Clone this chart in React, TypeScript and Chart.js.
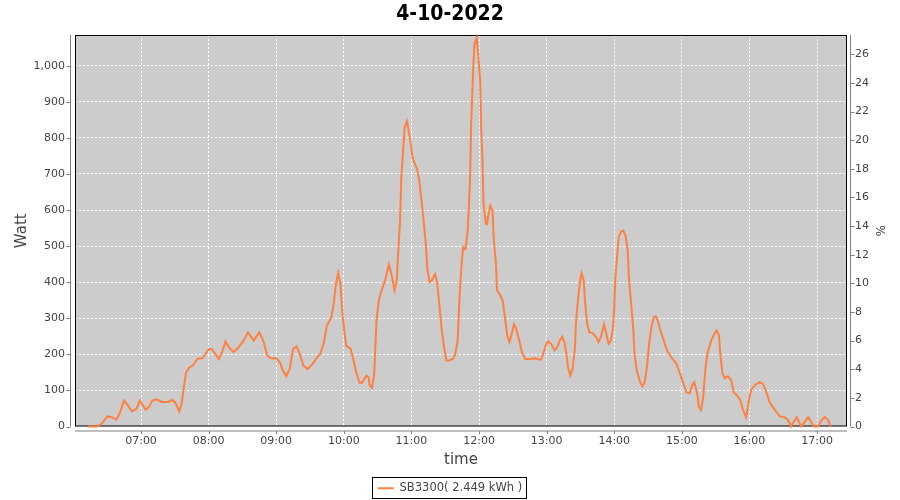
import React, { useEffect, useRef } from "react";
import { Chart, registerables } from "chart.js";

Chart.register(...registerables);

const chartTitle = "4-10-2022";
const seriesLabel = "SB3300( 2.449 kWh )";
const leftAxisTitle = "Watt";
const rightAxisTitle = "%";
const xAxisTitle = "time";

const times = [
  "06:13", "06:21", "06:25", "06:30", "06:34", "06:38", "06:41", "06:45", "06:48", "06:52",
  "06:56", "06:59", "07:04", "07:07", "07:10", "07:14", "07:18", "07:24", "07:28", "07:31",
  "07:34", "07:36", "07:38", "07:40", "07:43", "07:46", "07:50", "07:55", "08:00", "08:03",
  "08:09", "08:12", "08:15", "08:18", "08:22", "08:26", "08:31", "08:35", "08:40", "08:45",
  "08:49", "08:52", "08:55", "09:00", "09:03", "09:06", "09:09", "09:12", "09:15", "09:18",
  "09:21", "09:24", "09:28", "09:32", "09:36", "09:39", "09:42", "09:45", "09:49", "09:51",
  "09:53", "09:55", "09:57", "09:59", "10:02", "10:06", "10:08", "10:11", "10:14", "10:16",
  "10:20", "10:22", "10:23", "10:25", "10:27", "10:29", "10:31", "10:34", "10:37", "10:40",
  "10:42", "10:45", "10:47", "10:48", "10:50", "10:51", "10:53", "10:54", "10:56", "10:57",
  "10:59", "11:01", "11:03", "11:05", "11:07", "11:09", "11:11", "11:13", "11:14", "11:16",
  "11:18", "11:21", "11:23", "11:25", "11:27", "11:29", "11:31", "11:34", "11:37", "11:39",
  "11:41", "11:43", "11:45", "11:46", "11:48", "11:50", "11:52", "11:53", "11:55", "11:56",
  "11:58", "11:59", "12:01", "12:02", "12:03", "12:04", "12:06", "12:07", "12:09", "12:10",
  "12:12", "12:13", "12:15", "12:16", "12:19", "12:21", "12:23", "12:25", "12:27", "12:29",
  "12:31", "12:33", "12:36", "12:38", "12:41", "12:45", "12:50", "12:53", "12:55", "12:57",
  "12:59", "13:01", "13:04", "13:07", "13:09", "13:12", "13:14", "13:16", "13:18", "13:19",
  "13:21", "13:23", "13:25", "13:26", "13:28", "13:30", "13:31", "13:33", "13:34", "13:36",
  "13:38", "13:41", "13:44", "13:46", "13:48", "13:51", "13:53", "13:55", "13:57", "13:59",
  "14:00", "14:01", "14:03", "14:04", "14:06", "14:08", "14:10", "14:12", "14:13", "14:15",
  "14:17", "14:18", "14:20", "14:23", "14:25", "14:27", "14:29", "14:31", "14:33", "14:35",
  "14:37", "14:39", "14:41", "14:44", "14:47", "14:51", "14:55", "14:58", "15:01", "15:04",
  "15:07", "15:09", "15:11", "15:14", "15:15", "15:17", "15:19", "15:21", "15:23", "15:26",
  "15:29", "15:31", "15:33", "15:34", "15:36", "15:38", "15:41", "15:44", "15:46", "15:49",
  "15:52", "15:54", "15:57", "15:58", "16:00", "16:02", "16:05", "16:09", "16:12", "16:15",
  "16:18", "16:21", "16:24", "16:27", "16:31", "16:34", "16:37", "16:39", "16:42", "16:44",
  "16:46", "16:49", "16:52", "16:54", "16:57", "17:01", "17:04", "17:07", "17:10", "17:12",
];

const watts = [
  0, 0, 7, 28, 26, 19, 36, 72, 60, 42,
  49, 72, 47, 53, 72, 75, 68, 68, 74, 63,
  42, 63, 109, 150, 164, 169, 187, 190, 214, 214,
  187, 207, 236, 219, 206, 217, 238, 261, 238, 261,
  233, 197, 189, 189, 179, 155, 139, 160, 215, 222,
  201, 169, 159, 173, 190, 201, 229, 280, 303, 340,
  395, 425, 395, 303, 224, 215, 192, 150, 121, 121,
  141, 136, 114, 107, 146, 294, 349, 381, 409, 449,
  427, 377, 404, 469, 575, 690, 783, 829, 846, 829,
  792, 746, 728, 714, 681, 626, 562, 497, 441, 400,
  404, 423, 395, 330, 266, 220, 183, 183, 188, 201,
  238, 377, 469, 497, 492, 543, 681, 838, 1005, 1060,
  1077, 1042, 958, 820, 746, 617, 562, 560, 598, 612,
  598, 524, 451, 377, 363, 349, 303, 252, 234, 257,
  283, 271, 234, 206, 187, 187, 189, 186, 185, 201,
  224, 236, 229, 211, 218, 240, 249, 231, 192, 164,
  141, 160, 211, 284, 358, 409, 425, 404, 349, 284,
  261, 259, 247, 234, 247, 283, 257, 229, 238, 275,
  330, 414, 488, 524, 540, 543, 529, 488, 414, 340,
  266, 201, 155, 123, 111, 123, 164, 229, 275, 303,
  305, 289, 266, 238, 210, 190, 175, 150, 123, 95,
  92, 114, 123, 86, 55, 46, 81, 164, 206, 238,
  257, 266, 252, 206, 148, 134, 139, 127, 95, 86,
  72, 49, 26, 40, 81, 104, 115, 123, 118, 95,
  67, 53, 40, 28, 26, 19, 0, 12, 26, 12,
  0, 12, 26, 17, 0, 0, 17, 26, 17, 0,
];

const xTickLabels = ["07:00", "08:00", "09:00", "10:00", "11:00", "12:00", "13:00", "14:00", "15:00", "16:00", "17:00"];
const xRangeStart = "06:01.4";
const xRangeEnd = "17:26.6";
const wattMax = 1085;
const wattStep = 100;
const percentMax = 27.35;
const percentStep = 2;

const LINE_COLOR = "#ff8040";
const TEXT_COLOR = "#444444";
const FONT = "'DejaVu Sans', sans-serif";

function toHours(t: string): number {
  const [h, m] = t.split(":");
  return Number(h) + Number(m) / 60;
}

const framePlugin = {
  id: "jfreeFrame",
  beforeDraw(chart: any) {
    const { ctx, chartArea: a } = chart;
    ctx.save();
    ctx.fillStyle = "#ffffff";
    ctx.fillRect(0, 0, chart.width, chart.height);
    ctx.fillStyle = "#cccccc";
    ctx.fillRect(a.left, a.top, a.right - a.left, a.bottom - a.top);
    ctx.restore();
  },
  beforeDatasetsDraw(chart: any) {
    const { ctx, chartArea: a } = chart;
    ctx.save();
    ctx.strokeStyle = "#000000";
    ctx.lineWidth = 1;
    ctx.strokeRect(a.left + 0.5, a.top + 0.5, a.right - a.left - 1, a.bottom - a.top - 1);
    ctx.restore();
  },
  afterDraw(chart: any) {
    const { ctx, chartArea: a } = chart;
    const yS = chart.scales.y;
    const y1S = chart.scales.y1;
    const xS = chart.scales.x;
    ctx.save();
    ctx.strokeStyle = "#808080";
    ctx.lineWidth = 1;
    ctx.beginPath();
    const lx = a.left - 4.5;
    ctx.moveTo(lx, a.top);
    ctx.lineTo(lx, a.bottom);
    yS.ticks.forEach((t: any) => {
      const py = Math.round(yS.getPixelForValue(t.value)) + 0.5;
      ctx.moveTo(lx - 4, py);
      ctx.lineTo(lx, py);
    });
    const rx = a.right + 3.5;
    ctx.moveTo(rx, a.top);
    ctx.lineTo(rx, a.bottom);
    y1S.ticks.forEach((t: any) => {
      const py = Math.round(y1S.getPixelForValue(t.value)) + 0.5;
      ctx.moveTo(rx, py);
      ctx.lineTo(rx + 4, py);
    });
    const by = a.bottom + 4.5;
    ctx.moveTo(a.left, by);
    ctx.lineTo(a.right, by);
    xS.ticks.forEach((t: any) => {
      const px = Math.round(xS.getPixelForValue(t.value)) + 0.5;
      ctx.moveTo(px, by);
      ctx.lineTo(px, by + 3);
    });
    ctx.stroke();

    const lg = chart.legend;
    if (lg && lg.legendHitBoxes && lg.legendHitBoxes.length) {
      const hb = lg.legendHitBoxes[0];
      const cy = hb.top + hb.height / 2;
      ctx.strokeStyle = "#000000";
      ctx.strokeRect(Math.round(hb.left - 6) + 0.5, Math.round(cy - 11) + 0.5, Math.round(hb.width + 10), 21);
    }
    ctx.restore();
  },
};

export default function App() {
  const canvasRef = useRef<HTMLCanvasElement | null>(null);

  useEffect(() => {
    if (!canvasRef.current) return;
    const points = times.map((t, i) => ({ x: toHours(t), y: watts[i] }));
    const tickValues = xTickLabels.map(toHours);
    const startParts = xRangeStart.split(":");
    const endParts = xRangeEnd.split(":");
    const xMin = Number(startParts[0]) + Number(startParts[1]) / 60;
    const xMax = Number(endParts[0]) + Number(endParts[1]) / 60;

    const chart = new Chart(canvasRef.current, {
      type: "line",
      data: {
        datasets: [
          {
            label: seriesLabel,
            data: points,
            borderColor: LINE_COLOR,
            backgroundColor: LINE_COLOR,
            borderWidth: 2,
            pointRadius: 0,
            pointHoverRadius: 0,
            tension: 0,
            fill: false,
            yAxisID: "y",
            xAxisID: "x",
            clip: false as any,
          },
        ],
      },
      options: {
        responsive: false,
        animation: false,
        events: [],
        layout: { padding: { left: 0, right: 0, top: 0, bottom: -4 } },
        plugins: {
          title: {
            display: true,
            text: chartTitle,
            color: "#000000",
            font: { family: "'DejaVu Sans Condensed', 'DejaVu Sans', sans-serif", size: 21, weight: "bold" },
            padding: { top: 2, bottom: 7.8 },
          },
          legend: {
            display: true,
            position: "bottom",
            labels: {
              color: TEXT_COLOR,
              font: { family: FONT, size: 11.5 },
              usePointStyle: true,
              pointStyle: "line",
              pointStyleWidth: 16,
              boxHeight: 12,
              padding: 8,
            },
          },
          tooltip: { enabled: false },
        },
        scales: {
          x: {
            type: "linear",
            position: "bottom",
            min: xMin,
            max: xMax,
            afterBuildTicks: (scale: any) => {
              scale.ticks = tickValues.map((v) => ({ value: v }));
            },
            afterFit: (scale: any) => {
              scale.height = 48;
            },
            ticks: {
              autoSkip: false,
              maxRotation: 0,
              padding: 8,
              color: TEXT_COLOR,
              font: { family: FONT, size: 11 },
              callback: (value: any) => {
                const idx = tickValues.findIndex((v) => Math.abs(v - Number(value)) < 1e-6);
                return idx >= 0 ? xTickLabels[idx] : "";
              },
            },
            grid: { color: "#ffffff", lineWidth: 1, drawTicks: false },
            border: { display: false, dash: [2, 2] },
            title: {
              display: true,
              text: xAxisTitle,
              color: TEXT_COLOR,
              font: { family: FONT, size: 15 },
              padding: { top: 0, bottom: 5 },
            },
          },
          y: {
            type: "linear",
            position: "left",
            min: 0,
            max: wattMax,
            afterFit: (scale: any) => {
              scale.width = 75;
            },
            ticks: {
              stepSize: wattStep,
              includeBounds: false,
              padding: 10,
              color: TEXT_COLOR,
              font: { family: FONT, size: 11 },
              callback: (value: any) => Number(value).toLocaleString("en-US"),
            },
            grid: { color: "#ffffff", lineWidth: 1, drawTicks: false },
            border: { display: false, dash: [2, 2] },
            title: {
              display: true,
              text: leftAxisTitle,
              color: TEXT_COLOR,
              font: { family: FONT, size: 15 },
              padding: { top: 13, bottom: 0 },
            },
          },
          y1: {
            type: "linear",
            position: "right",
            min: 0,
            max: percentMax,
            afterFit: (scale: any) => {
              scale.width = 53;
            },
            ticks: {
              stepSize: percentStep,
              includeBounds: false,
              padding: 8,
              color: TEXT_COLOR,
              font: { family: FONT, size: 11 },
            },
            grid: { display: false, drawOnChartArea: false, drawTicks: false },
            border: { display: false },
            title: {
              display: true,
              text: rightAxisTitle,
              color: TEXT_COLOR,
              font: { family: FONT, size: 12 },
              padding: { top: 14, bottom: 0 },
            },
          },
        },
      },
      plugins: [framePlugin],
    });

    return () => {
      chart.destroy();
    };
  }, []);

  return (
    <div style={{ position: "fixed", left: 0, top: 0, width: 900, height: 500, background: "#ffffff" }}>
      <canvas ref={canvasRef} width={900} height={500} style={{ display: "block", width: 900, height: 500 }} />
    </div>
  );
}
